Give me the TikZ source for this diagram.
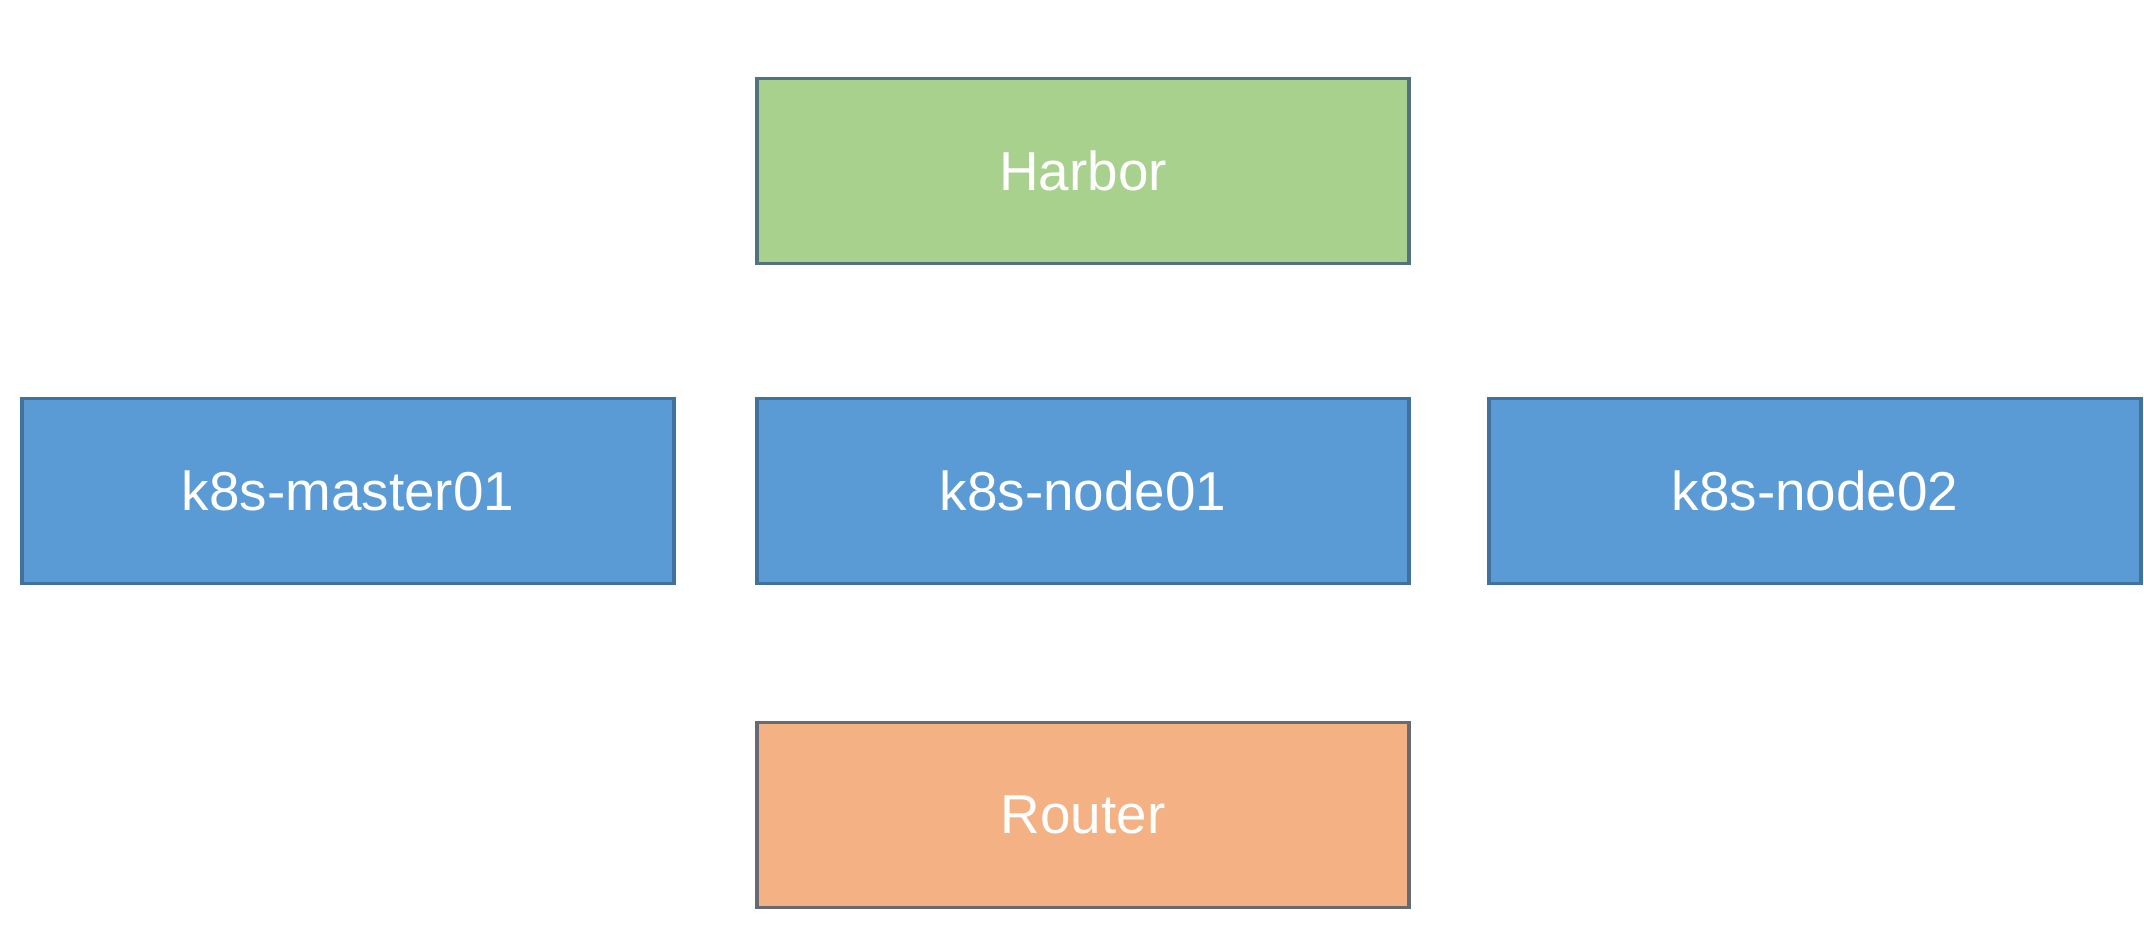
\documentclass[tikz,border=0pt]{standalone}
\usepackage{fontspec}
\setmainfont{Liberation Sans}
\definecolor{harborgreen}{RGB}{169, 209, 142}
\definecolor{harborline}{RGB}{84, 113, 127}
\definecolor{hostblue}{RGB}{91, 155, 213}
\definecolor{hostline}{RGB}{65, 113, 156}
\definecolor{routerorange}{RGB}{244, 177, 131}
\definecolor{routerline}{RGB}{103, 106, 112}
\begin{document}
\begin{tikzpicture}[
        hostbox/.style={rectangle, line width=0.035cm, minimum width=6.52cm, minimum height=1.85cm,
                        text=white, font=\fontsize{15.6}{18}\selectfont}]
            \useasboundingbox                                                        (0.00, 0.00) rectangle (21.44, 9.44);
            \node[hostbox, draw=harborline, fill=harborgreen]   (harbor)   at (10.83, 7.73) {Harbor};
            \node[hostbox, draw=hostline,   fill=hostblue]      (master01) at ( 3.48, 4.53) {k8s-master01};
            \node[hostbox, draw=hostline,   fill=hostblue]      (node01)   at (10.83, 4.53) {k8s-node01};
            \node[hostbox, draw=hostline,   fill=hostblue]      (node02)   at (18.15, 4.53) {k8s-node02};
            \node[hostbox, draw=routerline, fill=routerorange]  (router)   at (10.83, 1.29) {Router};
        \end{tikzpicture}
\end{document}
